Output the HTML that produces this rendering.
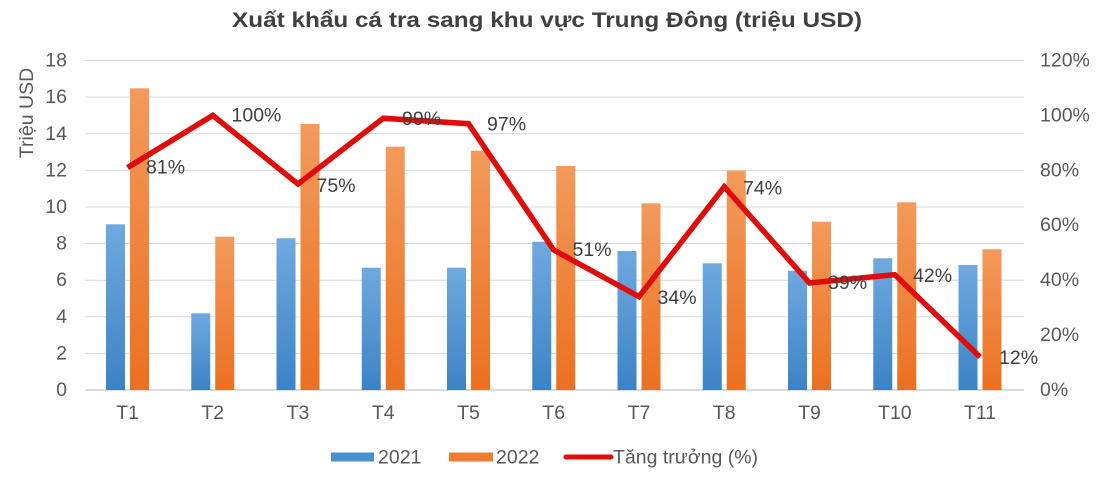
<!DOCTYPE html>
<html>
<head>
<meta charset="utf-8">
<style>
html,body{margin:0;padding:0;background:#fff;}
svg{display:block;}
text{font-family:"Liberation Sans",Arial,sans-serif;}
</style>
</head>
<body>
<svg width="1115" height="481" viewBox="0 0 1115 481" xmlns="http://www.w3.org/2000/svg">
<defs>
<linearGradient id="gb" x1="0" y1="0" x2="0" y2="1">
<stop offset="0" stop-color="#6fa9df"/>
<stop offset="1" stop-color="#3c83c5"/>
</linearGradient>
<linearGradient id="go" x1="0" y1="0" x2="0" y2="1">
<stop offset="0" stop-color="#f39a5c"/>
<stop offset="1" stop-color="#eb7020"/>
</linearGradient>
</defs>
<rect width="1115" height="481" fill="#fff"/>

<!-- title -->
<text x="547" y="27" text-anchor="middle" font-size="21" font-weight="bold" fill="#404040" textLength="630" lengthAdjust="spacingAndGlyphs">Xuất khẩu cá tra sang khu vực Trung Đông (triệu USD)</text>

<!-- gridlines -->
<g stroke="#d9d9d9" stroke-width="1">
<line x1="85" y1="60.5" x2="1024" y2="60.5"/>
<line x1="85" y1="97.1" x2="1024" y2="97.1"/>
<line x1="85" y1="133.8" x2="1024" y2="133.8"/>
<line x1="85" y1="170.4" x2="1024" y2="170.4"/>
<line x1="85" y1="207" x2="1024" y2="207"/>
<line x1="85" y1="243.5" x2="1024" y2="243.5"/>
<line x1="85" y1="280.2" x2="1024" y2="280.2"/>
<line x1="85" y1="316.8" x2="1024" y2="316.8"/>
<line x1="85" y1="353.4" x2="1024" y2="353.4"/>
</g>
<line x1="85" y1="390" x2="1024" y2="390" stroke="#d0d0d0" stroke-width="1.5"/>

<!-- left ticks -->
<g font-size="19.5" fill="#595959" text-anchor="end" dominant-baseline="central">
<text x="67" y="60.5">18</text>
<text x="67" y="97.1">16</text>
<text x="67" y="133.8">14</text>
<text x="67" y="170.4">12</text>
<text x="67" y="207">10</text>
<text x="67" y="243.5">8</text>
<text x="67" y="280.2">6</text>
<text x="67" y="316.8">4</text>
<text x="67" y="353.4">2</text>
<text x="67" y="390">0</text>
</g>
<text transform="translate(33,113) rotate(-90)" text-anchor="middle" font-size="19.5" fill="#595959">Triệu USD</text>

<!-- right ticks -->
<g font-size="19.5" fill="#595959" text-anchor="start" dominant-baseline="central">
<text x="1040" y="60.5">120%</text>
<text x="1040" y="115.4">100%</text>
<text x="1040" y="170.4">80%</text>
<text x="1040" y="225.2">60%</text>
<text x="1040" y="280.2">40%</text>
<text x="1040" y="335.1">20%</text>
<text x="1040" y="390">0%</text>
</g>

<!-- bars 2021 -->
<g fill="url(#gb)">
<rect x="106" y="224.3" width="19" height="165.7"/>
<rect x="191.25" y="313.3" width="19" height="76.7"/>
<rect x="276.5" y="238.3" width="19" height="151.7"/>
<rect x="361.75" y="267.7" width="19" height="122.3"/>
<rect x="447" y="267.7" width="19" height="122.3"/>
<rect x="532.25" y="241.7" width="19" height="148.3"/>
<rect x="617.5" y="251" width="19" height="139"/>
<rect x="702.75" y="263.3" width="19" height="126.7"/>
<rect x="788" y="270.7" width="19" height="119.3"/>
<rect x="873.25" y="258.3" width="19" height="131.7"/>
<rect x="958.5" y="265" width="19" height="125"/>
</g>
<!-- bars 2022 -->
<g fill="url(#go)">
<rect x="130" y="88.3" width="19" height="301.7"/>
<rect x="215.25" y="236.7" width="19" height="153.3"/>
<rect x="300.5" y="124" width="19" height="266"/>
<rect x="385.75" y="146.7" width="19" height="243.3"/>
<rect x="471" y="150.7" width="19" height="239.3"/>
<rect x="556.25" y="166" width="19" height="224"/>
<rect x="641.5" y="203.3" width="19" height="186.7"/>
<rect x="726.75" y="170.7" width="19" height="219.3"/>
<rect x="812" y="221.7" width="19" height="168.3"/>
<rect x="897.25" y="202.3" width="19" height="187.7"/>
<rect x="982.5" y="249.3" width="19" height="140.7"/>
</g>

<!-- growth line -->
<polyline fill="none" stroke="#e00b0b" stroke-width="5.5" stroke-linejoin="miter" stroke-miterlimit="4"
points="127.5,167.6 212.75,115.4 298,184 383.25,118.2 468.5,123.7 553.75,250 639,296.6 724.25,186.8 809.5,283 894.75,274.7 980,357"/>

<!-- data labels -->
<g font-size="19.5" fill="#404040" dominant-baseline="central">
<text x="146" y="167.6">81%</text>
<text x="231.5" y="115.4">100%</text>
<text x="316.5" y="186">75%</text>
<text x="402" y="119">99%</text>
<text x="487" y="124.5">97%</text>
<text x="572.5" y="250">51%</text>
<text x="657.5" y="298">34%</text>
<text x="743" y="188.5">74%</text>
<text x="828" y="283">39%</text>
<text x="913" y="276">42%</text>
<text x="999" y="358">12%</text>
</g>

<!-- x labels -->
<g font-size="19.5" fill="#595959" text-anchor="middle" dominant-baseline="central">
<text x="127.5" y="413">T1</text>
<text x="212.75" y="413">T2</text>
<text x="298" y="413">T3</text>
<text x="383.25" y="413">T4</text>
<text x="468.5" y="413">T5</text>
<text x="553.75" y="413">T6</text>
<text x="639" y="413">T7</text>
<text x="724.25" y="413">T8</text>
<text x="809.5" y="413">T9</text>
<text x="894.75" y="413">T10</text>
<text x="980" y="413">T11</text>
</g>

<!-- legend -->
<rect x="331" y="452.5" width="43" height="9" fill="#4a8fd0"/>
<text x="378" y="457.5" font-size="19.5" fill="#595959" dominant-baseline="central">2021</text>
<rect x="449" y="452.5" width="44" height="9" fill="#ee7d31"/>
<text x="496" y="457.5" font-size="19.5" fill="#595959" dominant-baseline="central">2022</text>
<line x1="566" y1="457" x2="611" y2="457" stroke="#e00b0b" stroke-width="5" stroke-linecap="round"/>
<text x="613" y="457.5" font-size="19.5" fill="#595959" dominant-baseline="central">Tăng trưởng (%)</text>
</svg>
</body>
</html>
